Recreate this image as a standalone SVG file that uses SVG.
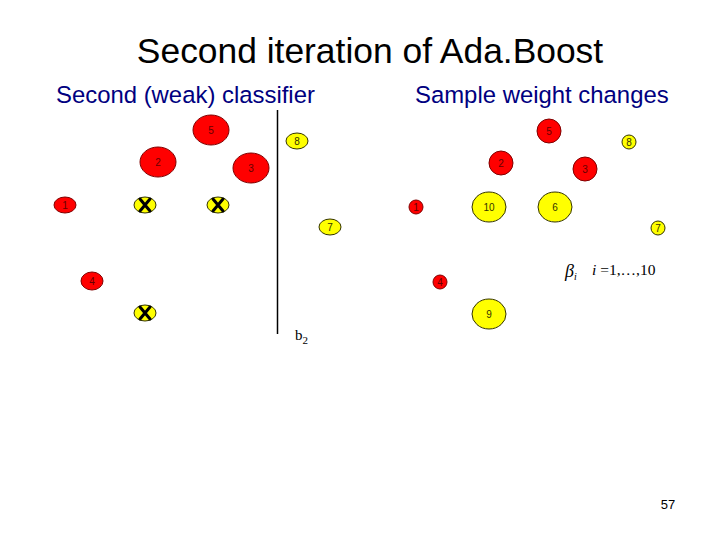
<svg xmlns="http://www.w3.org/2000/svg" width="720" height="540" viewBox="0 0 720 540">
<style>
.t{font-family:"Liberation Sans",Arial,sans-serif;fill:#000}
.h{font-size:23.9px;fill:#000080}
.r{fill:#ff0000;stroke:#800000;stroke-width:1}
.y{fill:#ffff00;stroke:#333300;stroke-width:1}
.n{font-family:"Liberation Sans",Arial,sans-serif;font-size:10px;fill:#660000;text-anchor:middle}
.ny{font-family:"Liberation Sans",Arial,sans-serif;font-size:10px;fill:#333300;text-anchor:middle}
.x{stroke:#000;stroke-width:3;stroke-linecap:round}
</style>
<rect width="720" height="540" fill="#fff"/>
<text class="t" x="370" y="63" font-size="35.4" text-anchor="middle">Second iteration of Ada.Boost</text>
<text class="t h" x="56" y="103">Second (weak) classifier</text>
<text class="t h" x="415" y="103">Sample weight changes</text>

<g id="left">
<g id="L5"><ellipse class="r" cx="211" cy="130" rx="18" ry="15"/><text class="n" x="211" y="134">5</text></g>
<g id="L2"><ellipse class="r" cx="158" cy="162" rx="18" ry="15"/><text class="n" x="158" y="166">2</text></g>
<g id="L3"><ellipse class="r" cx="251" cy="168" rx="18" ry="15"/><text class="n" x="251" y="172">3</text></g>
<g id="L8"><ellipse class="y" cx="297" cy="141" rx="11" ry="8"/><text class="ny" x="297" y="145">8</text></g>
<g id="L1"><ellipse class="r" cx="65" cy="205" rx="11" ry="8"/><text class="n" x="65" y="209">1</text></g>
<g id="L10"><ellipse class="y" cx="145" cy="205" rx="11" ry="8"/><path class="x" d="M140 199L150 211M150 199L140 211"/></g>
<g id="L6"><ellipse class="y" cx="218" cy="205" rx="11" ry="8"/><path class="x" d="M213 199L223 211M223 199L213 211"/></g>
<g id="L7"><ellipse class="y" cx="330" cy="227" rx="11" ry="8"/><text class="ny" x="330" y="231">7</text></g>
<g id="L4"><ellipse class="r" cx="92" cy="281" rx="11" ry="9"/><text class="n" x="92" y="285">4</text></g>
<g id="L9"><ellipse class="y" cx="145" cy="313" rx="11" ry="8"/><path class="x" d="M140 307L150 319M150 307L140 319"/></g>
</g>

<g id="connectors">
<line x1="277.5" y1="110" x2="277.5" y2="334" stroke="#000" stroke-width="1.5"/>
</g>
<text x="295" y="340" font-family="'Liberation Serif',serif" font-size="15" fill="#000">b<tspan dy="4" font-size="11">2</tspan></text>

<g id="right">
<g id="R5"><circle class="r" cx="549" cy="131" r="12"/><text class="n" x="549" y="135">5</text></g>
<g id="R8"><circle class="y" cx="629" cy="142" r="7"/><text class="ny" x="629" y="146">8</text></g>
<g id="R2"><circle class="r" cx="501" cy="163" r="12"/><text class="n" x="501" y="167">2</text></g>
<g id="R3"><circle class="r" cx="585" cy="169" r="12"/><text class="n" x="585" y="173">3</text></g>
<g id="R1"><circle class="r" cx="416" cy="207" r="7"/><text class="n" x="416" y="211">1</text></g>
<g id="R10"><ellipse class="y" cx="489" cy="207" rx="17" ry="15"/><text class="ny" x="489" y="211">10</text></g>
<g id="R6"><ellipse class="y" cx="555" cy="207" rx="17" ry="15"/><text class="ny" x="555" y="211">6</text></g>
<g id="R7"><circle class="y" cx="658" cy="228" r="7"/><text class="ny" x="658" y="232">7</text></g>
<g id="R4"><circle class="r" cx="440" cy="282" r="7"/><text class="n" x="440" y="286">4</text></g>
<g id="R9"><ellipse class="y" cx="489" cy="314" rx="17" ry="15"/><text class="ny" x="489" y="318">9</text></g>
</g>

<text x="565" y="277" font-family="'Liberation Serif',serif" font-size="18" font-style="italic" fill="#000">β<tspan dy="3" font-size="10">i</tspan></text>
<text x="592" y="275" font-family="'Liberation Serif',serif" font-size="15.5" fill="#000"><tspan font-style="italic">i</tspan> =1,…,10</text>

<text class="t" x="668" y="509" font-size="13" text-anchor="middle">57</text>
</svg>
